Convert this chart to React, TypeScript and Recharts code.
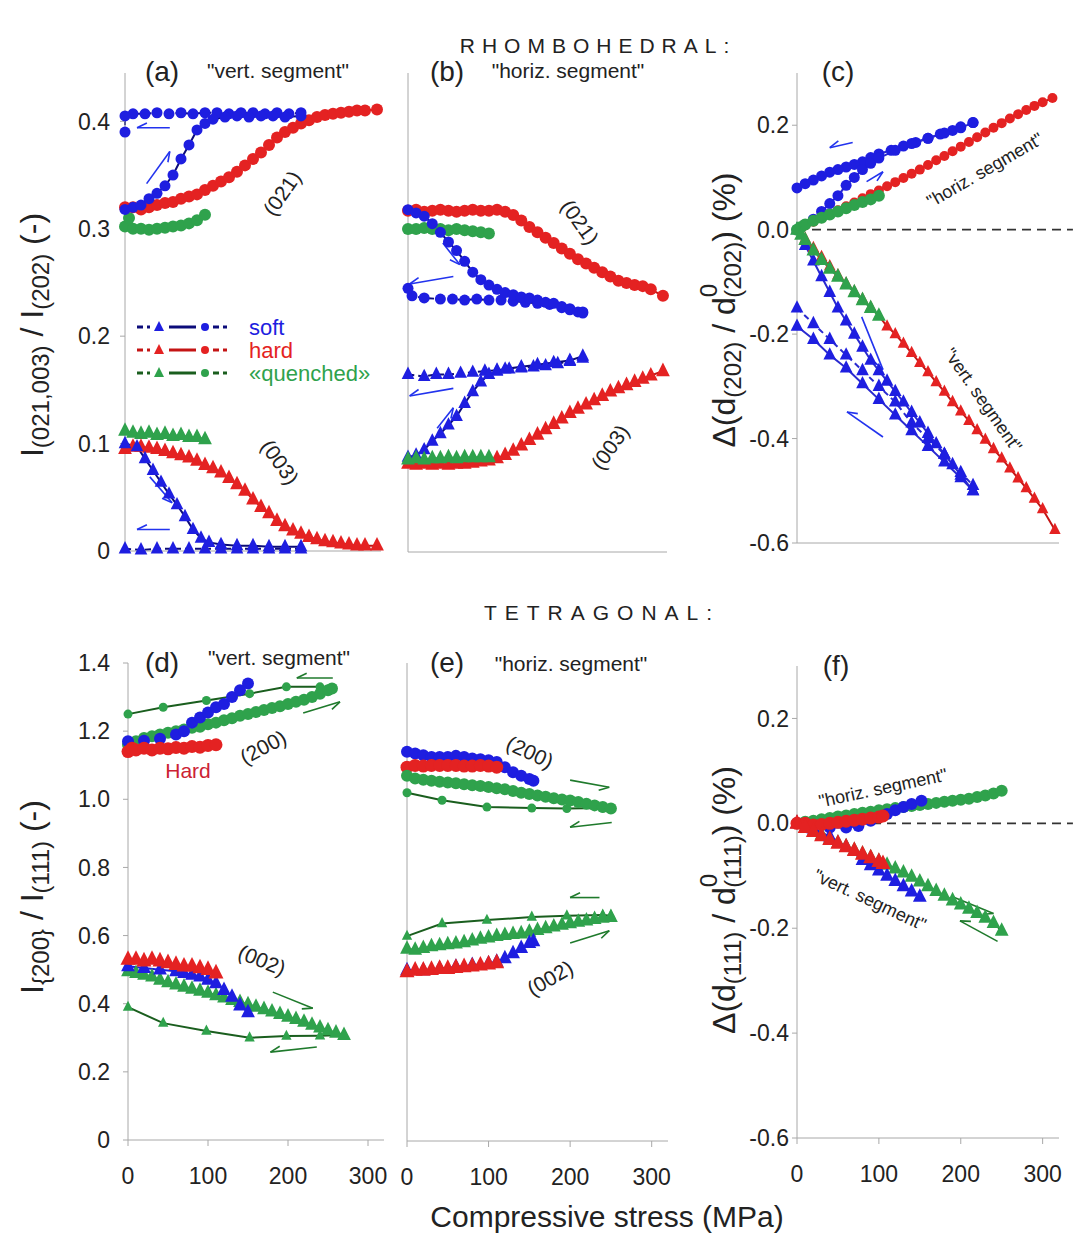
import React from 'react';
import { ComposedChart, Line, XAxis, YAxis, ReferenceLine } from 'recharts';

type P = [number, number];

// ---------- shared ticks ----------
const xTicks = [0, 100, 200, 300];
const yTicksRh = [0, 0.1, 0.2, 0.3, 0.4];
const yTicksStrain = [-0.6, -0.4, -0.2, 0, 0.2];
const yTicksTet = [0, 0.2, 0.4, 0.6, 0.8, 1.0, 1.2, 1.4];

// ---------- (a) rhombohedral, vert. segment ----------
const softA021Load: P[] = [[0,0.318],[10,0.32],[20,0.322],[30,0.328],[40,0.333],[50,0.34],[60,0.35],[70,0.365],[80,0.378],[90,0.392],[100,0.398],[110,0.402],[125,0.404],[140,0.405],[155,0.404],[170,0.405],[185,0.405],[200,0.404],[220,0.405]];
const softA021Unload: P[] = [[220,0.408],[205,0.407],[190,0.408],[175,0.407],[160,0.408],[145,0.408],[130,0.407],[115,0.408],[100,0.408],[85,0.407],[70,0.408],[55,0.407],[40,0.408],[25,0.407],[10,0.407],[0,0.405],[0,0.39]];
const softA003Load: P[] = [[0,0.1],[15,0.097],[25,0.086],[35,0.075],[45,0.064],[55,0.053],[65,0.043],[75,0.032],[85,0.02],[95,0.012],[105,0.008],[120,0.006],[140,0.005],[160,0.005],[180,0.004],[200,0.004],[220,0.004]];
const softA003Unload: P[] = [[220,0.002],[200,0.002],[180,0.002],[160,0.002],[140,0.002],[120,0.002],[100,0.002],[80,0.002],[60,0.002],[40,0.002],[20,0.001],[0,0.002]];
const hardA021: P[] = [[0,0.32],[10,0.32],[20,0.318],[30,0.32],[40,0.322],[50,0.324],[60,0.325],[70,0.328],[80,0.33],[90,0.332],[100,0.336],[110,0.34],[120,0.344],[130,0.348],[140,0.353],[150,0.359],[160,0.365],[170,0.371],[180,0.378],[190,0.385],[200,0.39],[210,0.394],[220,0.398],[230,0.401],[240,0.404],[250,0.406],[260,0.407],[270,0.408],[280,0.409],[290,0.41],[300,0.41],[315,0.411]];
const hardA003: P[] = [[0,0.095],[10,0.097],[20,0.097],[30,0.096],[40,0.095],[50,0.093],[60,0.091],[70,0.089],[80,0.087],[90,0.084],[100,0.08],[110,0.077],[120,0.073],[130,0.068],[140,0.062],[150,0.056],[160,0.048],[170,0.041],[180,0.035],[190,0.028],[200,0.023],[210,0.019],[220,0.016],[230,0.013],[240,0.011],[250,0.009],[260,0.008],[270,0.007],[280,0.006],[290,0.005],[300,0.005],[315,0.005]];
const quenchedA021: P[] = [[0,0.302],[5,0.31],[10,0.3],[20,0.3],[30,0.299],[40,0.3],[50,0.301],[60,0.302],[70,0.303],[80,0.305],[90,0.308],[100,0.313]];
const quenchedA003: P[] = [[0,0.112],[10,0.11],[20,0.109],[30,0.11],[40,0.108],[50,0.109],[60,0.107],[70,0.108],[80,0.106],[90,0.106],[100,0.104]];

// ---------- (b) rhombohedral, horiz. segment ----------
const hardB021: P[] = [[0,0.317],[10,0.318],[20,0.316],[30,0.317],[40,0.318],[50,0.317],[60,0.316],[70,0.317],[80,0.318],[90,0.317],[100,0.317],[110,0.318],[120,0.316],[130,0.313],[140,0.308],[150,0.302],[160,0.297],[170,0.292],[180,0.287],[190,0.282],[200,0.277],[210,0.272],[220,0.268],[230,0.264],[240,0.26],[250,0.256],[260,0.252],[270,0.25],[280,0.248],[290,0.247],[300,0.244],[315,0.238]];
const quenchedB021: P[] = [[0,0.3],[10,0.3],[20,0.301],[30,0.3],[40,0.3],[50,0.299],[60,0.3],[70,0.299],[80,0.298],[90,0.297],[100,0.296]];
const softB021Load: P[] = [[0,0.318],[10,0.315],[20,0.312],[30,0.305],[40,0.297],[50,0.288],[60,0.28],[70,0.27],[80,0.26],[90,0.253],[100,0.248],[110,0.244],[120,0.241],[130,0.239],[140,0.237],[150,0.236],[160,0.234],[170,0.232],[180,0.231],[190,0.227],[200,0.225],[210,0.223],[216,0.222]];
const softB021Unload: P[] = [[216,0.223],[200,0.226],[190,0.228],[175,0.23],[160,0.231],[145,0.232],[130,0.233],[115,0.234],[100,0.234],[85,0.235],[70,0.234],[55,0.235],[40,0.235],[20,0.236],[5,0.238],[0,0.245]];
const softB003Load: P[] = [[0,0.088],[10,0.09],[20,0.095],[30,0.103],[40,0.11],[50,0.118],[60,0.126],[70,0.138],[80,0.149],[90,0.158],[100,0.165],[110,0.168],[120,0.17],[140,0.172],[160,0.174],[180,0.176],[200,0.178],[216,0.182]];
const softB003Unload: P[] = [[216,0.18],[200,0.177],[185,0.175],[170,0.173],[155,0.172],[140,0.171],[125,0.17],[110,0.169],[95,0.168],[80,0.167],[65,0.166],[50,0.165],[35,0.165],[20,0.163],[0,0.165]];
const hardB003: P[] = [[0,0.082],[10,0.081],[20,0.082],[30,0.081],[40,0.082],[50,0.081],[60,0.082],[70,0.082],[80,0.083],[90,0.084],[100,0.085],[110,0.087],[120,0.09],[130,0.094],[140,0.099],[150,0.104],[160,0.109],[170,0.114],[180,0.119],[190,0.124],[200,0.129],[210,0.133],[220,0.137],[230,0.141],[240,0.145],[250,0.149],[260,0.152],[270,0.155],[280,0.158],[290,0.161],[300,0.164],[315,0.168]];
const quenchedB003: P[] = [[0,0.086],[10,0.087],[20,0.086],[30,0.087],[40,0.087],[50,0.088],[60,0.087],[70,0.088],[80,0.088],[90,0.088],[100,0.088]];

// ---------- (c) rhombohedral, lattice strain d(202) ----------
const softCHorizLoad: P[] = [[0,0],[10,0.01],[20,0.02],[30,0.035],[40,0.05],[50,0.065],[60,0.085],[70,0.1],[80,0.115],[90,0.127],[100,0.137],[120,0.152],[140,0.165],[160,0.175],[180,0.185],[200,0.195],[215,0.205]];
const softCHorizUnload: P[] = [[215,0.205],[200,0.197],[190,0.19],[175,0.183],[160,0.175],[145,0.167],[130,0.16],[115,0.152],[100,0.145],[90,0.138],[80,0.13],[70,0.125],[60,0.12],[50,0.115],[40,0.11],[30,0.103],[20,0.095],[10,0.088],[0,0.08]];
const hardCHoriz: P[] = [[0,0],[10,0.008],[20,0.015],[30,0.022],[40,0.03],[50,0.037],[60,0.045],[70,0.052],[80,0.06],[90,0.068],[100,0.075],[110,0.083],[120,0.091],[130,0.099],[140,0.107],[150,0.115],[160,0.124],[170,0.133],[180,0.141],[190,0.15],[200,0.159],[210,0.168],[220,0.177],[230,0.186],[240,0.195],[250,0.204],[260,0.213],[270,0.221],[280,0.229],[290,0.237],[300,0.244],[312,0.252]];
const quenchedCHoriz: P[] = [[0,0],[5,0.005],[10,0.01],[20,0.017],[30,0.023],[40,0.029],[50,0.035],[60,0.041],[70,0.047],[80,0.053],[90,0.058],[100,0.065]];
const hardCVert: P[] = [[0,0],[10,-0.017],[20,-0.035],[30,-0.052],[40,-0.07],[50,-0.087],[60,-0.103],[70,-0.118],[80,-0.133],[90,-0.149],[100,-0.165],[110,-0.185],[120,-0.2],[130,-0.218],[140,-0.236],[150,-0.255],[160,-0.273],[170,-0.292],[180,-0.31],[190,-0.33],[200,-0.348],[210,-0.366],[220,-0.384],[230,-0.402],[240,-0.42],[250,-0.438],[260,-0.457],[270,-0.476],[280,-0.495],[290,-0.515],[300,-0.535],[315,-0.575]];
const quenchedCVert: P[] = [[0,0],[5,-0.01],[10,-0.02],[20,-0.04],[30,-0.058],[40,-0.075],[50,-0.09],[60,-0.105],[70,-0.12],[80,-0.135],[90,-0.15],[100,-0.165]];
const softCVertLoad: P[] = [[0,0],[10,-0.03],[20,-0.06],[30,-0.09],[40,-0.12],[50,-0.15],[60,-0.175],[70,-0.2],[80,-0.225],[90,-0.25],[100,-0.27],[110,-0.29],[120,-0.31],[130,-0.33],[140,-0.35],[150,-0.37],[160,-0.39],[170,-0.41],[180,-0.43],[190,-0.45],[200,-0.47],[215,-0.5]];
const softCVertUnload: P[] = [[215,-0.5],[200,-0.475],[180,-0.445],[160,-0.415],[140,-0.385],[120,-0.355],[100,-0.325],[80,-0.295],[60,-0.265],[40,-0.24],[20,-0.21],[0,-0.185]];
const softCVertCycle2: P[] = [[0,-0.15],[20,-0.18],[40,-0.21],[60,-0.24],[80,-0.27],[100,-0.3],[120,-0.33],[140,-0.37],[160,-0.4],[180,-0.43],[200,-0.465],[215,-0.49]];

// ---------- (d) tetragonal, vert. segment ----------
const hardD200: P[] = [[0,1.14],[5,1.15],[10,1.145],[20,1.15],[30,1.145],[40,1.15],[50,1.148],[60,1.152],[70,1.15],[80,1.155],[90,1.153],[100,1.158],[110,1.16]];
const softD200: P[] = [[0,1.17],[20,1.172],[40,1.178],[60,1.19],[70,1.2],[80,1.225],[90,1.24],[100,1.255],[110,1.27],[120,1.28],[130,1.3],[140,1.32],[150,1.34]];
const quenchedD200Load: P[] = [[0,1.16],[10,1.17],[20,1.18],[30,1.185],[40,1.19],[50,1.195],[60,1.2],[70,1.205],[80,1.21],[90,1.213],[100,1.22],[110,1.225],[120,1.232],[130,1.238],[140,1.245],[150,1.25],[160,1.256],[170,1.262],[180,1.268],[190,1.273],[200,1.28],[210,1.286],[220,1.292],[230,1.3],[240,1.31],[250,1.32],[255,1.325]];
const quenchedD200Unload: P[] = [[255,1.325],[240,1.33],[198,1.33],[152,1.31],[98,1.29],[44,1.27],[0,1.25]];
const hardD002: P[] = [[0,0.53],[10,0.53],[20,0.525],[30,0.53],[40,0.525],[50,0.52],[60,0.515],[70,0.51],[80,0.51],[90,0.505],[100,0.5],[110,0.49]];
const softD002: P[] = [[0,0.51],[20,0.505],[40,0.5],[60,0.495],[70,0.49],[80,0.485],[90,0.48],[100,0.47],[110,0.46],[120,0.44],[130,0.42],[140,0.395],[150,0.375]];
const quenchedD002Load: P[] = [[0,0.495],[10,0.49],[20,0.485],[30,0.48],[40,0.47],[50,0.463],[60,0.456],[70,0.45],[80,0.444],[90,0.438],[100,0.432],[110,0.425],[120,0.418],[130,0.411],[140,0.405],[150,0.398],[160,0.391],[170,0.384],[180,0.377],[190,0.37],[200,0.362],[210,0.355],[220,0.347],[230,0.338],[240,0.33],[250,0.322],[260,0.315],[270,0.308]];
const quenchedD002Unload: P[] = [[270,0.308],[240,0.306],[198,0.305],[152,0.3],[98,0.32],[44,0.343],[0,0.39]];

// ---------- (e) tetragonal, horiz. segment ----------
const softE200: P[] = [[0,1.14],[10,1.135],[20,1.13],[30,1.125],[40,1.125],[50,1.125],[60,1.128],[70,1.125],[80,1.12],[90,1.118],[100,1.115],[110,1.11],[120,1.095],[130,1.08],[140,1.07],[150,1.06],[155,1.055]];
const hardE200: P[] = [[0,1.095],[10,1.1],[20,1.098],[30,1.1],[40,1.1],[50,1.1],[60,1.1],[70,1.098],[80,1.098],[90,1.1],[100,1.098],[110,1.095]];
const quenchedE200Load: P[] = [[0,1.07],[10,1.062],[20,1.058],[30,1.055],[40,1.052],[50,1.05],[60,1.048],[70,1.045],[80,1.042],[90,1.04],[100,1.037],[110,1.033],[120,1.03],[130,1.025],[140,1.02],[150,1.016],[160,1.012],[170,1.008],[180,1.004],[190,1.0],[200,0.997],[210,0.993],[220,0.988],[230,0.983],[240,0.978],[250,0.974]];
const quenchedE200Unload: P[] = [[250,0.974],[240,0.975],[196,0.974],[153,0.975],[98,0.978],[43,0.998],[0,1.02]];
const softE002: P[] = [[0,0.5],[20,0.5],[40,0.505],[60,0.51],[80,0.515],[100,0.52],[110,0.525],[120,0.535],[130,0.55],[140,0.565],[150,0.58],[155,0.585]];
const hardE002: P[] = [[0,0.495],[10,0.5],[20,0.5],[30,0.502],[40,0.505],[50,0.505],[60,0.508],[70,0.51],[80,0.512],[90,0.515],[100,0.518],[110,0.522]];
const quenchedE002Load: P[] = [[0,0.563],[10,0.56],[20,0.565],[30,0.57],[40,0.573],[50,0.576],[60,0.578],[70,0.582],[80,0.587],[90,0.592],[100,0.596],[110,0.6],[120,0.603],[130,0.606],[140,0.608],[150,0.613],[160,0.618],[170,0.623],[180,0.628],[190,0.633],[200,0.638],[210,0.642],[220,0.646],[230,0.65],[240,0.654],[250,0.656]];
const quenchedE002Unload: P[] = [[250,0.66],[240,0.662],[196,0.66],[153,0.656],[98,0.647],[43,0.637],[0,0.6]];

// ---------- (f) tetragonal, lattice strain d(111) ----------
const quenchedFHoriz: P[] = [[0,0],[10,0.003],[20,0.005],[30,0.008],[40,0.01],[50,0.013],[60,0.015],[70,0.018],[80,0.02],[90,0.022],[100,0.025],[110,0.027],[120,0.029],[130,0.031],[140,0.033],[150,0.035],[160,0.037],[170,0.039],[180,0.041],[190,0.043],[200,0.045],[210,0.047],[220,0.05],[230,0.053],[240,0.057],[250,0.062]];
const softFHoriz: P[] = [[0,0],[20,-0.005],[40,-0.008],[60,-0.008],[75,-0.005],[90,0.005],[100,0.012],[110,0.018],[120,0.025],[130,0.031],[140,0.037],[152,0.043]];
const hardFHoriz: P[] = [[0,0],[10,0.0],[20,-0.003],[30,-0.002],[40,0.0],[50,0.002],[60,0.004],[70,0.006],[80,0.008],[90,0.01],[100,0.012],[105,0.014]];
const quenchedFVert: P[] = [[0,0],[10,-0.008],[20,-0.015],[30,-0.022],[40,-0.03],[50,-0.037],[60,-0.044],[70,-0.051],[80,-0.058],[90,-0.065],[100,-0.072],[110,-0.079],[120,-0.086],[130,-0.094],[140,-0.102],[150,-0.111],[160,-0.12],[170,-0.129],[180,-0.138],[190,-0.147],[200,-0.155],[210,-0.163],[220,-0.171],[230,-0.18],[240,-0.19],[250,-0.205]];
const softFVert: P[] = [[0,0],[20,-0.01],[40,-0.025],[60,-0.045],[80,-0.07],[90,-0.08],[100,-0.09],[110,-0.1],[120,-0.11],[130,-0.12],[140,-0.13],[150,-0.14]];
const hardFVert: P[] = [[0,0],[10,-0.008],[20,-0.016],[30,-0.024],[40,-0.031],[50,-0.038],[60,-0.045],[70,-0.052],[80,-0.059],[90,-0.066],[100,-0.073],[105,-0.077]];

// ---------- arrows [tailX, tailY, headX, headY] ----------
const arrowsA: number[][] = [[56,0.394,15,0.394],[27,0.342,56,0.372],[31,0.069,59,0.045],[56,0.02,15,0.02]];
const arrowsB: number[][] = [[43,0.287,64,0.267],[56,0.256,2,0.249],[56,0.152,2,0.145],[36,0.115,56,0.134]];
const arrowsC: number[][] = [[68,0.167,40,0.157],[85,0.092,105,0.111],[79,-0.167,105,-0.268],[105,-0.397,61,-0.349]];
const arrowsD: number[][] = [[256,1.356,211,1.356],[219,1.253,265,1.286],[181,0.434,231,0.387],[236,0.273,178,0.258]];
const arrowsE: number[][] = [[200,1.057,248,1.036],[251,0.933,200,0.919],[236,0.713,200,0.713],[200,0.58,248,0.616]];
const arrowsF: number[][] = [[190,-0.14,240,-0.172],[245,-0.225,199,-0.186]];

// ---------- styles ----------
const FONT = '"Liberation Sans", Arial, Helvetica, sans-serif';
const AXIS = '#a8a8a8';
const TXT = '#222';
const BLUE = '#1e1ee0';
const BLUE_LINE = '#0c0c7a';
const BLUE_LINE_C = '#2a2ad0';
const RED = '#e42222';
const RED_LINE = '#c41414';
const GREEN = '#2fa24c';
const GREEN_LINE = '#1a5e1e';
const BLUE_ARROW = '#2233ee';
const GREEN_ARROW = '#1f7a2c';

type Series = { data: P[]; color: string; line: string; shape: 'c' | 't'; dash?: boolean; r?: number; w?: number };

const S = (data: P[], color: string, line: string, shape: 'c' | 't', extra: Partial<Series> = {}): Series => ({ data, color, line, shape, ...extra });

const seriesA: Series[] = [
  S(quenchedA021, GREEN, GREEN, 'c', { r: 6 }),
  S(quenchedA003, GREEN, GREEN, 't', { r: 6 }),
  S(hardA021, RED, RED_LINE, 'c', { r: 6 }),
  S(hardA003, RED, RED_LINE, 't', { r: 6 }),
  S(softA021Unload, BLUE, BLUE_LINE, 'c', { dash: true, r: 5.5 }),
  S(softA021Load, BLUE, BLUE_LINE, 'c', { r: 5.5 }),
  S(softA003Unload, BLUE, BLUE_LINE, 't', { dash: true, r: 5.5 }),
  S(softA003Load, BLUE, BLUE_LINE, 't', { r: 5.5 }),
];
const seriesB: Series[] = [
  S(hardB021, RED, RED_LINE, 'c', { r: 6 }),
  S(quenchedB021, GREEN, GREEN, 'c', { r: 6 }),
  S(softB021Unload, BLUE, BLUE_LINE, 'c', { dash: true, r: 5.5 }),
  S(softB021Load, BLUE, BLUE_LINE, 'c', { r: 5.5 }),
  S(softB003Unload, BLUE, BLUE_LINE, 't', { dash: true, r: 5.5 }),
  S(softB003Load, BLUE, BLUE_LINE, 't', { r: 5.5 }),
  S(hardB003, RED, RED_LINE, 't', { r: 6 }),
  S(quenchedB003, GREEN, GREEN, 't', { r: 6 }),
];
const seriesC: Series[] = [
  S(hardCHoriz, RED, RED_LINE, 'c', { r: 5 }),
  S(hardCVert, RED, RED_LINE, 't', { r: 5 }),
  S(softCHorizUnload, BLUE, BLUE_LINE_C, 'c', { dash: true, r: 5.5 }),
  S(softCHorizLoad, BLUE, BLUE_LINE_C, 'c', { r: 5.5 }),
  S(softCVertCycle2, BLUE, BLUE_LINE_C, 't', { dash: true, r: 5.5 }),
  S(softCVertUnload, BLUE, BLUE_LINE_C, 't', { r: 5.5 }),
  S(softCVertLoad, BLUE, BLUE_LINE_C, 't', { r: 5.5 }),
  S(quenchedCHoriz, GREEN, GREEN, 'c', { r: 6 }),
  S(quenchedCVert, GREEN, GREEN, 't', { r: 6 }),
];
const seriesD: Series[] = [
  S(quenchedD200Unload, GREEN, GREEN_LINE, 'c', { r: 4.5 }),
  S(quenchedD200Load, GREEN, GREEN, 'c', { r: 6 }),
  S(softD200, BLUE, BLUE, 'c', { r: 6 }),
  S(hardD200, RED, RED, 'c', { r: 6.5 }),
  S(quenchedD002Unload, GREEN, GREEN_LINE, 't', { r: 4.5 }),
  S(quenchedD002Load, GREEN, GREEN, 't', { r: 6 }),
  S(softD002, BLUE, BLUE, 't', { r: 6 }),
  S(hardD002, RED, RED, 't', { r: 6.5 }),
];
const seriesE: Series[] = [
  S(quenchedE200Unload, GREEN, GREEN_LINE, 'c', { r: 4.5 }),
  S(softE200, BLUE, BLUE, 'c', { r: 6 }),
  S(hardE200, RED, RED, 'c', { r: 6.5 }),
  S(quenchedE200Load, GREEN, GREEN, 'c', { r: 6 }),
  S(quenchedE002Unload, GREEN, GREEN_LINE, 't', { r: 4.5 }),
  S(quenchedE002Load, GREEN, GREEN, 't', { r: 6 }),
  S(softE002, BLUE, BLUE, 't', { r: 6 }),
  S(hardE002, RED, RED, 't', { r: 6.5 }),
];
const seriesF: Series[] = [
  S(quenchedFHoriz, GREEN, GREEN, 'c', { r: 6 }),
  S(quenchedFVert, GREEN, GREEN_LINE, 't', { r: 6 }),
  S(softFHoriz, BLUE, BLUE, 'c', { r: 6 }),
  S(softFVert, BLUE, BLUE, 't', { r: 6 }),
  S(hardFHoriz, RED, RED, 'c', { r: 6.5 }),
  S(hardFVert, RED, RED, 't', { r: 6.5 }),
];

const pts = (arr: P[]) => arr.map(([x, y]) => ({ x, y }));

const makeDot = (s: Series) => (p: any) => {
  const { cx, cy, index } = p;
  if (cx == null || cy == null || isNaN(cx) || isNaN(cy)) return <g key={`e${index}`} />;
  const r = s.r ?? 5;
  if (s.shape === 'c') return <circle key={`c${index}`} cx={cx} cy={cy} r={r} fill={s.color} />;
  const a = r * 2.3;
  const pts2 = `${cx},${cy - a * 0.62} ${cx - a / 2},${cy + a * 0.36} ${cx + a / 2},${cy + a * 0.36}`;
  return <polygon key={`t${index}`} points={pts2} fill={s.color} />;
};

const arrowShape = (color: string) => (props: any) => {
  const { x1, y1, x2, y2 } = props;
  if ([x1, y1, x2, y2].some((v) => v == null || isNaN(v))) return <g />;
  const ang = Math.atan2(y2 - y1, x2 - x1);
  const L = 11;
  const hx = x2 - L * Math.cos(ang - 0.45);
  const hy = y2 - L * Math.sin(ang - 0.45);
  return (
    <g>
      <line x1={x1} y1={y1} x2={x2} y2={y2} stroke={color} strokeWidth={1.6} />
      <line x1={x2} y1={y2} x2={hx} y2={hy} stroke={color} strokeWidth={1.6} />
    </g>
  );
};

type PanelCfg = {
  left: number; top: number; plotW: number; plotH: number;
  yDomain: [number, number]; yTicks: number[]; yLabels: boolean; xLabels: boolean;
  yTickMargin: number; fmt: (v: number) => string; series: Series[]; arrows: number[][]; arrowColor: string; zero?: boolean;
};

const fmtPlain = (v: number) => (v === 0 ? '0' : v.toFixed(1));
const fmtStrain = (v: number) => (Math.abs(v) < 1e-9 ? '0.0' : v.toFixed(1));

function Panel({ cfg }: { cfg: PanelCfg }) {
  const ml = 80, mr = 20, mt = 22, mb = 55;
  const W = cfg.plotW + ml + mr;
  const H = cfg.plotH + mt + mb;
  const tickStyle = { fill: TXT, fontSize: 23, fontFamily: FONT };
  return (
    <div style={{ position: 'absolute', left: cfg.left - ml, top: cfg.top - mt }}>
      <ComposedChart width={W} height={H} margin={{ top: mt, right: mr, bottom: 0, left: 0 }}>
        <XAxis type="number" dataKey="x" domain={[0, 320]} ticks={xTicks} interval={0} height={mb}
          stroke={AXIS} tickLine={{ stroke: AXIS }} tickSize={6} tickMargin={22}
          tick={cfg.xLabels ? tickStyle : false} />
        <YAxis type="number" domain={cfg.yDomain} ticks={cfg.yTicks} interval={0} width={ml}
          stroke={AXIS} tickLine={{ stroke: AXIS }} tickSize={5} tickMargin={cfg.yTickMargin}
          tickFormatter={cfg.fmt} tick={cfg.yLabels ? tickStyle : false} />
        {cfg.zero && (
          <ReferenceLine segment={[{ x: 0, y: 0 }, { x: 337, y: 0 }]} stroke="#333" strokeDasharray="9 6" strokeWidth={1.6} ifOverflow="visible" />
        )}
        {cfg.series.map((s, i) => (
          <Line key={i} data={pts(s.data)} dataKey="y" type="linear" stroke={s.line} strokeWidth={s.w ?? 2}
            strokeDasharray={s.dash ? '6 4' : undefined} dot={makeDot(s)} activeDot={false} isAnimationActive={false} />
        ))}
        {cfg.arrows.map((a, i) => (
          <ReferenceLine key={`a${i}`} segment={[{ x: a[0], y: a[1] }, { x: a[2], y: a[3] }]} stroke={cfg.arrowColor}
            shape={arrowShape(cfg.arrowColor)} ifOverflow="visible" />
        ))}
      </ComposedChart>
    </div>
  );
}

const panels: PanelCfg[] = [
  { left: 125, top: 73, plotW: 256, plotH: 478, yDomain: [0, 0.445], yTicks: yTicksRh, yLabels: true, xLabels: false, yTickMargin: 10, fmt: fmtPlain, series: seriesA, arrows: arrowsA, arrowColor: BLUE_ARROW },
  { left: 408, top: 73, plotW: 259, plotH: 479, yDomain: [0, 0.445], yTicks: yTicksRh, yLabels: false, xLabels: false, yTickMargin: 10, fmt: fmtPlain, series: seriesB, arrows: arrowsB, arrowColor: BLUE_ARROW },
  { left: 797, top: 73, plotW: 262, plotH: 470, yDomain: [-0.6, 0.3], yTicks: yTicksStrain, yLabels: true, xLabels: false, yTickMargin: 3, fmt: fmtStrain, series: seriesC, arrows: arrowsC, arrowColor: BLUE_ARROW, zero: true },
  { left: 128, top: 663, plotW: 256, plotH: 477, yDomain: [0, 1.4], yTicks: yTicksTet, yLabels: true, xLabels: true, yTickMargin: 13, fmt: fmtPlain, series: seriesD, arrows: arrowsD, arrowColor: GREEN_ARROW },
  { left: 407, top: 663, plotW: 261, plotH: 478, yDomain: [0, 1.4], yTicks: yTicksTet, yLabels: false, xLabels: true, yTickMargin: 13, fmt: fmtPlain, series: seriesE, arrows: arrowsE, arrowColor: GREEN_ARROW },
  { left: 797, top: 666, plotW: 262, plotH: 472, yDomain: [-0.6, 0.3], yTicks: yTicksStrain, yLabels: true, xLabels: true, yTickMargin: 3, fmt: fmtStrain, series: seriesF, arrows: arrowsF, arrowColor: GREEN_ARROW, zero: true },
];

const T = ({ x, y, children, size = 21, rot = 0, fill = TXT, anchor = 'middle', ls }: any) => (
  <text x={x} y={y} fontSize={size} fill={fill} textAnchor={anchor} dominantBaseline="central" fontFamily={FONT}
    letterSpacing={ls} transform={rot ? `rotate(${rot} ${x} ${y})` : undefined}>{children}</text>
);

function Legend() {
  const rows = [
    { y: 327, c: BLUE, l: BLUE_LINE, t: 'soft' },
    { y: 350, c: RED, l: RED_LINE, t: 'hard' },
    { y: 373, c: GREEN, l: GREEN_LINE, t: '«quenched»' },
  ];
  return (
    <g>
      {rows.map((r) => (
        <g key={r.t}>
          <line x1={137} y1={r.y} x2={150} y2={r.y} stroke={r.l} strokeWidth={3} strokeDasharray="6 4" />
          <polygon points={`${159},${r.y - 6} ${154},${r.y + 4} ${164},${r.y + 4}`} fill={r.c} />
          <line x1={169} y1={r.y} x2={196} y2={r.y} stroke={r.l} strokeWidth={3} />
          <circle cx={205} cy={r.y} r={4} fill={r.c} />
          <line x1={213} y1={r.y} x2={227} y2={r.y} stroke={r.l} strokeWidth={3} strokeDasharray="6 4" />
          <text x={249} y={r.y} fontSize={22} fill={r.c} dominantBaseline="central" fontFamily={FONT}>{r.t}</text>
        </g>
      ))}
    </g>
  );
}

function Overlay() {
  const sub = 24;
  return (
    <svg width={1073} height={1243} style={{ position: 'absolute', left: 0, top: 0, pointerEvents: 'none' }}>
      <T x={598} y={45} size={21} ls={7}>RHOMBOHEDRAL:</T>
      <T x={602} y={612} size={21} ls={8}>TETRAGONAL:</T>

      <T x={162} y={71} size={28}>(a)</T>
      <T x={278} y={70} size={21}>"vert. segment"</T>
      <T x={447} y={71} size={28}>(b)</T>
      <T x={568} y={70} size={21}>"horiz. segment"</T>
      <T x={838} y={71} size={28}>(c)</T>
      <T x={162} y={662} size={28}>(d)</T>
      <T x={279} y={657} size={21}>"vert. segment"</T>
      <T x={447} y={662} size={28}>(e)</T>
      <T x={571} y={663} size={21}>"horiz. segment"</T>
      <T x={836} y={665} size={28}>(f)</T>

      <T x={282} y={193} rot={-55}>(021)</T>
      <T x={280} y={462} rot={55}>(003)</T>
      <T x={580} y={222} rot={55}>(021)</T>
      <T x={610} y={447} rot={-55}>(003)</T>
      <T x={985} y={170} size={18} rot={-30}>"horiz. segment"</T>
      <T x={983} y={400} size={18} rot={55}>"vert. segment"</T>
      <T x={263} y={747} rot={-28}>(200)</T>
      <T x={188} y={770} fill="#cc2233">Hard</T>
      <T x={262} y={960} rot={22}>(002)</T>
      <T x={530} y={752} rot={25}>(200)</T>
      <T x={550} y={978} rot={-30}>(002)</T>
      <T x={883} y={788} size={18} rot={-12}>"horiz. segment"</T>
      <T x={870} y={900} size={18} rot={25}>"vert. segment"</T>

      <Legend />

      <T x={607} y={1216} size={30}>Compressive stress (MPa)</T>

      {/* y-axis titles */}
      <text x={32} y={335} fontSize={32} fill={TXT} textAnchor="middle" fontFamily={FONT} dominantBaseline="central" transform="rotate(-90 32 335)">
        I<tspan fontSize={sub} dy={8}>(021,003)</tspan><tspan dy={-8}> / I</tspan><tspan fontSize={sub} dy={8}>(202)</tspan><tspan dy={-8}> (-)</tspan>
      </text>
      <text x={32} y={897} fontSize={32} fill={TXT} textAnchor="middle" fontFamily={FONT} dominantBaseline="central" transform="rotate(-90 32 897)">
        I<tspan fontSize={sub} dy={8}>{'{200}'}</tspan><tspan dy={-8}> / I</tspan><tspan fontSize={sub} dy={8}>(111)</tspan><tspan dy={-8}> (-)</tspan>
      </text>
      <text x={724} y={310} fontSize={32} fill={TXT} textAnchor="middle" fontFamily={FONT} dominantBaseline="central" transform="rotate(-90 724 310)">
        Δ(d<tspan fontSize={sub} dy={8}>(202)</tspan><tspan dy={-8}> / d</tspan><tspan fontSize={sub} dy={-16}>0</tspan><tspan fontSize={sub} dx={-14} dy={24}>(202)</tspan><tspan dy={-8}>) (%)</tspan>
      </text>
      <text x={724} y={900} fontSize={32} fill={TXT} textAnchor="middle" fontFamily={FONT} dominantBaseline="central" transform="rotate(-90 724 900)">
        Δ(d<tspan fontSize={sub} dy={8}>(111)</tspan><tspan dy={-8}> / d</tspan><tspan fontSize={sub} dy={-16}>0</tspan><tspan fontSize={sub} dx={-14} dy={24}>(111)</tspan><tspan dy={-8}>) (%)</tspan>
      </text>
    </svg>
  );
}

export default function App() {
  return (
    <div style={{ position: 'absolute', left: 0, top: 0, width: 1073, height: 1243, background: '#fff', fontFamily: FONT }}>
      {panels.map((p, i) => (
        <Panel key={i} cfg={p} />
      ))}
      <Overlay />
    </div>
  );
}
